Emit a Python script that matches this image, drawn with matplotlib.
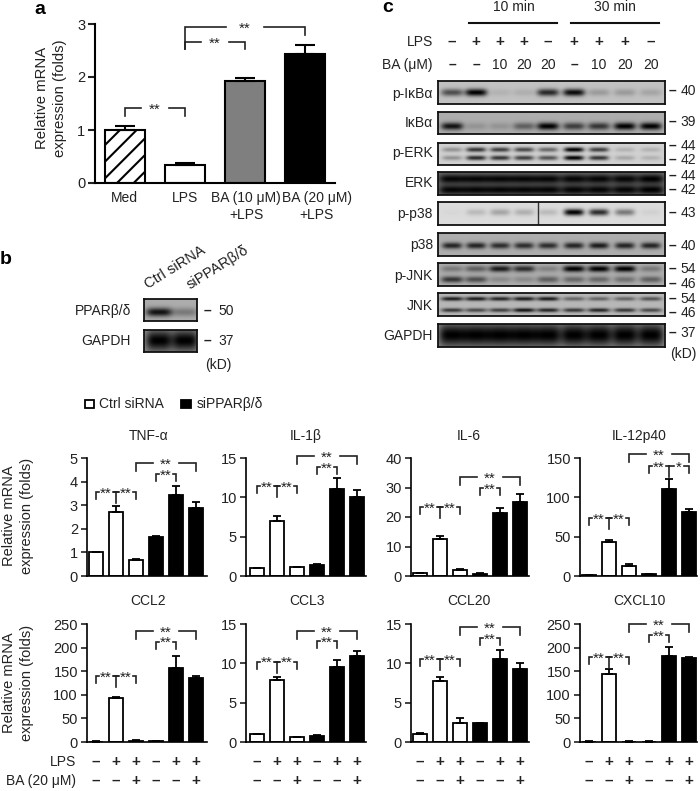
#!/usr/bin/env python3
import numpy as np
import matplotlib
matplotlib.use('Agg')
import matplotlib.pyplot as plt

plt.rcParams['font.family'] = ['Liberation Sans', 'DejaVu Sans']
plt.rcParams['hatch.linewidth'] = 1.5
plt.rcParams['text.color'] = '#222222'
plt.rcParams['xtick.color'] = '#222222'
plt.rcParams['ytick.color'] = '#222222'

W, H = 700, 791
TXT = 10

# panel a
a_labels = ['Med', 'LPS', 'BA (10 μM)\n+LPS', 'BA (20 μM)\n+LPS']
a_values = [1.0, 0.34, 1.92, 2.43]
a_errors = [0.07, 0.03, 0.06, 0.18]
a_ticks = [0, 1, 2, 3]

# small bar panels: ctrl x3, si x3
names = ['TNF-α', 'IL-1β', 'IL-6', 'IL-12p40', 'CCL2', 'CCL3', 'CCL20', 'CXCL10']
tnf_v = [1.0, 2.7, 0.68, 1.65, 3.43, 2.87]
tnf_e = [0.03, 0.25, 0.03, 0.06, 0.38, 0.27]
il1_v = [1.0, 7.0, 1.1, 1.4, 11.0, 10.0]
il1_e = [0.05, 0.6, 0.1, 0.1, 1.4, 0.9]
il6_v = [1.0, 12.5, 2.0, 0.8, 21.5, 25.2]
il6_e = [0.1, 1.1, 0.3, 0.1, 1.5, 2.5]
il12_v = [1.0, 43, 13, 2, 111, 81]
il12_e = [0.2, 2.5, 2.5, 0.5, 12, 4]
ccl2_v = [1, 93, 3, 2, 156, 135]
ccl2_e = [0.2, 3, 0.3, 0.3, 27, 4]
ccl3_v = [1.0, 7.9, 0.6, 0.8, 9.5, 10.9]
ccl3_e = [0.05, 0.4, 0.05, 0.03, 0.9, 0.7]
ccl20_v = [1.0, 7.8, 2.4, 2.4, 10.5, 9.3]
ccl20_e = [0.1, 0.4, 0.7, 0.05, 1.2, 0.7]
cxcl_v = [1, 145, 1, 1, 182, 177]
cxcl_e = [0.2, 10, 0.2, 0.2, 20, 3]
values = [tnf_v, il1_v, il6_v, il12_v, ccl2_v, ccl3_v, ccl20_v, cxcl_v]
errors = [tnf_e, il1_e, il6_e, il12_e, ccl2_e, ccl3_e, ccl20_e, cxcl_e]
ticks = [[0, 1, 2, 3, 4, 5], [0, 5, 10, 15], [0, 10, 20, 30, 40], [0, 50, 100, 150],
         [0, 50, 100, 150, 200, 250], [0, 5, 10, 15], [0, 5, 10, 15], [0, 50, 100, 150, 200, 250]]
lps_row = ['–', '+', '+', '–', '+', '+']
ba_row = ['–', '–', '+', '–', '–', '+']

# blots, band darkness per lane
c_lps = ['–', '+', '+', '+', '–', '+', '+', '+', '–']
c_ba = ['–', '–', '10', '20', '20', '–', '10', '20', '20']
p_ikb = [0.6, 1.0, 0.08, 0.1, 0.8, 0.95, 0.2, 0.2, 0.15]
ikb = [0.9, 0.15, 0.15, 0.45, 1.0, 0.65, 0.7, 1.0, 1.0]
p_erk_top = [0.3, 0.75, 0.7, 0.65, 0.5, 1.0, 0.7, 0.15, 0.15]
p_erk_bot = [0.3, 0.8, 0.75, 0.7, 0.6, 1.0, 0.75, 0.2, 0.15]
erk_top = [0.95, 0.95, 0.95, 0.95, 0.95, 0.95, 0.95, 0.95, 1.0]
erk_bot = [0.95, 0.95, 0.95, 0.95, 0.95, 0.95, 0.95, 0.95, 1.0]
p_p38 = [0.02, 0.15, 0.25, 0.2, 0.15, 1.0, 0.8, 0.45, 0.05]
p38 = [0.8, 0.8, 0.75, 0.75, 0.75, 0.8, 0.85, 0.8, 0.8]
p_jnk_top = [0.3, 0.45, 0.85, 0.75, 0.25, 1.0, 1.0, 1.0, 0.3]
p_jnk_bot = [0.7, 0.55, 0.2, 0.2, 0.45, 0.4, 0.4, 0.35, 0.45]
jnk_top = [0.85, 0.85, 0.8, 0.85, 0.85, 0.45, 0.45, 0.45, 0.55]
jnk_bot = [0.7, 0.6, 0.65, 0.9, 0.8, 0.7, 0.8, 0.7, 0.6]
gapdh = [1.0] * 9
ppar = [0.9, 0.3]
gapdh_b = [1.0, 1.0]

fig = plt.figure(figsize=(W / 100, H / 100), dpi=100, facecolor='white')


def px_axes(x0, ytop, x1, ybot):
    return fig.add_axes([x0 / W, 1 - ybot / H, (x1 - x0) / W, (ybot - ytop) / H])


def label(x, y, s, ha='center', size=TXT, **kw):
    fig.text(x / W, 1 - y / H, s, ha=ha, va='center', fontsize=size, **kw)


def bracket(ax, x0, x1, y, drop_l, drop_r, gap, txt, size=11):
    tr = ax.get_xaxis_transform()
    xm = (x0 + x1) / 2
    kw = dict(transform=tr, color='#222222', lw=1.2, clip_on=False, solid_joinstyle='miter')
    ax.plot([x0, x0, xm - gap], [y - drop_l, y, y], **kw)
    ax.plot([xm + gap, x1, x1], [y, y, y - drop_r], **kw)
    ax.text(xm, y - 0.012, txt, transform=tr, ha='center', va='center', fontsize=size)


def style_axes(ax, lw, ticklen):
    ax.spines['top'].set_visible(False)
    ax.spines['right'].set_visible(False)
    ax.spines['left'].set_linewidth(lw)
    ax.spines['bottom'].set_linewidth(lw)
    ax.tick_params(axis='y', length=ticklen, width=lw, labelsize=TXT + 0.5, pad=2)
    ax.tick_params(axis='x', length=0, labelbottom=False)
    ax.patch.set_alpha(0)


def draw_blot(x0, ytop, x1, ybot, lanes, bg, bands, half_w, sigma):
    ax = px_axes(x0, ytop, x1, ybot)
    xx, yy = np.meshgrid(np.linspace(x0, x1, int((x1 - x0) * 2)), np.linspace(0, 1, int((ybot - ytop) * 3)))
    dark = np.zeros_like(xx)
    for yf, levels in bands:
        for lane, lev in zip(lanes, levels):
            dark += lev * np.exp(-((xx - lane) / half_w) ** 4) * np.exp(-((yy - yf) / sigma) ** 2)
    gray = bg * (1 - np.clip(dark, 0, 1))
    ax.imshow(gray, cmap='gray', vmin=0, vmax=1, aspect='auto', extent=[x0, x1, 1, 0], interpolation='bilinear')
    ax.set_xticks([])
    ax.set_yticks([])
    for sp in ax.spines.values():
        sp.set_linewidth(1.3)
        sp.set_color('#111111')
    return ax


def size_marks(x_dash, x_num, marks):
    for y, s in marks:
        label(x_dash, y, '–', fontweight='bold')
        label(x_num, y, s)


# ---------- panel a ----------
ax = px_axes(95, 24, 335, 183)
a_x = np.arange(4)
bars = ax.bar(a_x, a_values, width=0.68, color=['white', 'white', '#7f7f7f', 'black'],
              edgecolor='black', linewidth=1.5)
bars[0].set_hatch('//')
ax.errorbar(a_x, a_values, yerr=[[0] * 4, a_errors], fmt='none', ecolor='black', elinewidth=1.5,
            capsize=7, capthick=1.5)
ax.set_xlim(-0.5, 3.5)
ax.set_ylim(0, 3)
ax.set_yticks(a_ticks)
style_axes(ax, 1.5, 5)
bracket(ax, 0, 1, 0.472, 0.05, 0.05, 0.23, '**')
bracket(ax, 1, 2, 0.887, 0.044, 0.044, 0.23, '**')
bracket(ax, 1, 3, 0.981, 0.138, 0.05, 0.31, '**')
for cx, s in zip([124, 185, 246, 317], a_labels):
    fig.text(cx / W, 1 - 191 / H, s, ha='center', va='top', fontsize=TXT, linespacing=1.3)
label(51, 98, 'Relative mRNA\nexpression (folds)', size=10.7, rotation=90, linespacing=1.3)
label(40, 9, 'a', size=14, fontweight='bold', color='black')
label(6, 259, 'b', size=14, fontweight='bold', color='black')
label(388, 7, 'c', size=14, fontweight='bold', color='black')

# ---------- panel b ----------
b_lanes = [159, 185]
draw_blot(144, 299, 197, 321, b_lanes, 0.68, [(0.6, ppar)], 13, 0.2)
draw_blot(144, 330, 197, 352, b_lanes, 0.55, [(0.48, gapdh_b)], 13, 0.45)
label(131, 311, 'PPARβ/δ', ha='right')
label(131, 341, 'GAPDH', ha='right')
size_marks(207, 226, [(311, '50'), (341, '37')])
label(218, 365, '(kD)')
fig.text(150 / W, 1 - 292 / H, 'Ctrl siRNA', rotation=32, ha='left', va='bottom', fontsize=10.5, rotation_mode='anchor')
fig.text(192 / W, 1 - 292 / H, 'siPPARβ/δ', rotation=32, ha='left', va='bottom', fontsize=10.5, rotation_mode='anchor')

# ---------- panel c ----------
lanes = [452, 476, 500, 524, 548, 574, 599, 625, 651]
label(514, 7, '10 min')
label(615, 7, '30 min')
fig.add_artist(plt.Line2D([469 / W, 557 / W], [1 - 23 / H] * 2, color='#111111', lw=1.5))
fig.add_artist(plt.Line2D([571 / W, 659 / W], [1 - 23 / H] * 2, color='#111111', lw=1.5))
label(433, 42, 'LPS', ha='right')
label(433, 65, 'BA (μM)', ha='right')
for lx, s1, s2 in zip(lanes, c_lps, c_ba):
    label(lx, 42, s1, size=11, fontweight='bold')
    label(lx, 65, s2, fontweight='bold' if s2 == '–' else 'normal')

bx0, bx1 = 438, 665
draw_blot(bx0, 81, bx1, 104, lanes, 0.76, [(0.5, p_ikb)], 11, 0.16)
draw_blot(bx0, 112, bx1, 134, lanes, 0.68, [(0.65, ikb)], 11, 0.17)
draw_blot(bx0, 143, bx1, 165, lanes, 0.82, [(0.3, p_erk_top), (0.68, p_erk_bot)], 10, 0.11)
draw_blot(bx0, 172, bx1, 195, lanes, 0.42, [(0.3, erk_top), (0.78, erk_bot)], 13, 0.2)
ax = draw_blot(bx0, 202, bx1, 225, lanes, 0.86, [(0.47, p_p38)], 10, 0.14)
ax.plot([538, 538], [0, 1], color='#333333', lw=1)
ax.set_xlim(bx0, bx1)
ax.set_ylim(1, 0)
draw_blot(bx0, 233, bx1, 256, lanes, 0.68, [(0.55, p38)], 10, 0.14)
draw_blot(bx0, 263, bx1, 286, lanes, 0.68, [(0.25, p_jnk_top), (0.72, p_jnk_bot)], 11, 0.14)
draw_blot(bx0, 293, bx1, 316, lanes, 0.72, [(0.25, jnk_top), (0.75, jnk_bot)], 11, 0.09)
draw_blot(bx0, 324, bx1, 347, lanes, 0.55, [(0.5, gapdh)], 13, 0.45)

row_names = ['p-IκBα', 'IκBα', 'p-ERK', 'ERK', 'p-p38', 'p38', 'p-JNK', 'JNK', 'GAPDH']
row_y = [94, 123, 153, 183, 214, 245, 276, 306, 336]
for y, s in zip(row_y, row_names):
    label(433, y, s, ha='right')
size_marks(672, 688, [(91, '40'), (122, '39'), (146, '44'), (160, '42'), (176, '44'), (190, '42'),
                      (213, '43'), (246, '40'), (269, '54'), (284, '46'), (299, '54'), (313, '46'), (333, '37')])
label(683, 354, '(kD)')

# ---------- legend ----------
fig.add_artist(plt.Rectangle((85 / W, 1 - 408 / H), 9 / W, 8 / H, fc='white', ec='black', lw=1.3))
fig.add_artist(plt.Rectangle((181 / W, 1 - 408 / H), 10 / W, 8 / H, fc='black', ec='black', lw=1.3))
label(99, 404, 'Ctrl siRNA', ha='left')
label(197, 404, 'siPPARβ/δ', ha='left')

# ---------- small panels ----------
col_left = [87, 246, 411, 580]
col_first = [96, 257, 420, 589]
col_right = [207, 366, 529, 697]
title_x = [149, 306, 469, 639, 148, 307, 469, 639]
left_top = [0.71, 0.763, 0.585, 0.49, 0.559, 0.68, 0.70, 0.72]
outer_top = [0.958, 1.017, 0.84, 1.034, 0.94, 0.94, 0.975, 1.0]
inner_top = [0.864, 0.924, 0.746, 0.932, 0.85, 0.856, 0.88, 0.907]

for i in range(8):
    col, row = i % 4, i // 4
    ytop, ybot = (458, 576) if row == 0 else (624, 742)
    ax = px_axes(col_left[col], ytop, col_right[col], ybot)
    xs = np.arange(6)
    ax.bar(xs, values[i], width=0.68, color=['white'] * 3 + ['black'] * 3, edgecolor='black', linewidth=1.3)
    ax.errorbar(xs, values[i], yerr=[[0] * 6, errors[i]], fmt='none', ecolor='black', elinewidth=1.3,
                capsize=2.8, capthick=1.3)
    ax.set_xlim((col_left[col] - col_first[col]) / 20, (col_right[col] - col_first[col]) / 20)
    ax.set_ylim(0, ticks[i][-1])
    ax.set_yticks(ticks[i])
    style_axes(ax, 1.2, 4.5)
    label(title_x[i], 436 if row == 0 else 601, names[i])

    tr = ax.get_xaxis_transform()
    bracket(ax, 0, 1, left_top[i], 0.06, 0, 0.36, '**')
    bracket(ax, 1, 2, left_top[i], 0, 0.06, 0.36, '**')
    ax.plot([0.9, 1.1], [left_top[i], left_top[i]], transform=tr, color='#222222', lw=1.2, clip_on=False)
    ax.plot([1, 1], [left_top[i], left_top[i] - 0.093], transform=tr, color='#222222', lw=1.2, clip_on=False)
    bracket(ax, 2, 5, outer_top[i], 0.068, 0.068, 0.66, '**')
    if i == 3:
        bracket(ax, 3, 4, inner_top[i], 0.06, 0, 0.36, '**')
        bracket(ax, 4, 5, inner_top[i], 0, 0.06, 0.25, '*')
        ax.plot([4, 4], [inner_top[i], inner_top[i] - 0.093], transform=tr, color='#222222', lw=1.2, clip_on=False)
    else:
        bracket(ax, 3, 4, inner_top[i], 0.06, 0.06, 0.36, '**')

    if row == 1:
        for x, s1, s2 in zip(xs, lps_row, ba_row):
            ax.text(x, -0.17, s1, transform=tr, ha='center', va='center', fontsize=11, fontweight='bold', clip_on=False)
            ax.text(x, -0.33, s2, transform=tr, ha='center', va='center', fontsize=11, fontweight='bold', clip_on=False)

label(18, 516, 'Relative mRNA\nexpression (folds)', size=10.5, rotation=90, linespacing=1.3)
label(18, 683, 'Relative mRNA\nexpression (folds)', size=10.5, rotation=90, linespacing=1.3)
label(76, 762, 'LPS', ha='right')
label(76, 781, 'BA (20 μM)', ha='right')

fig.savefig('out.png', dpi=100, facecolor='white')
